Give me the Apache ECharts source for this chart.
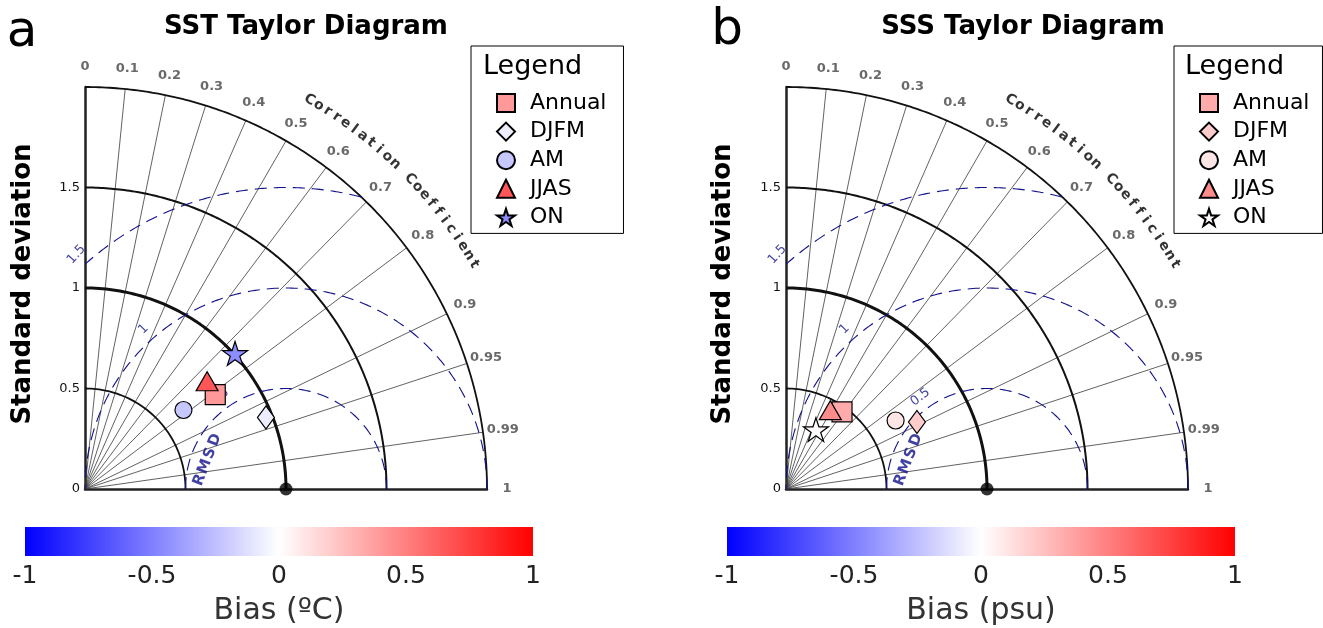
<!DOCTYPE html>
<html><head><meta charset="utf-8">
<script src="https://cdn.jsdelivr.net/npm/echarts@6/dist/echarts.min.js"></script>
<style>html,body{margin:0;padding:0;background:#fff}#c{width:1323px;height:628px}</style>
</head><body><div id="c"></div>
<script>
// ---------------- DATA ----------------
const seasons = ['Annual', 'DJFM', 'AM', 'JJAS', 'ON'];
// SST panel (a)
const sstStd  = [0.80, 0.968, 0.628, 0.81, 1.006];
const sstCorr = [0.81, 0.930, 0.780, 0.75, 0.742];
const sstBias = [0.40, -0.07, -0.22, 0.66, -0.45];
// SSS panel (b)
const sssStd  = [0.474, 0.732, 0.643, 0.45, 0.331];
const sssCorr = [0.588, 0.890, 0.848, 0.49, 0.450];
const sssBias = [0.33, 0.20, 0.10, 0.45, 0.02];
// axes / ticks
const stdTicks = [0, 0.5, 1, 1.5];
const stdArcs = [0.5, 1, 1.5, 2];
const corrLines = [0.1, 0.2, 0.3, 0.4, 0.5, 0.6, 0.7, 0.8, 0.9, 0.95, 0.99];
const corrTicks = [0, 0.1, 0.2, 0.3, 0.4, 0.5, 0.6, 0.7, 0.8, 0.9, 0.95, 0.99, 1];
const rmsdLevels = [0.5, 1, 1.5];
const refStd = 1;
const biasTicks = [-1, -0.5, 0, 0.5, 1];

// ---------------- STYLE / LAYOUT ----------------
const FONT = '"DejaVu Sans", "Liberation Sans", sans-serif';
const STAR = 'path://M0,-100 L22.45,-30.9 L95.1,-30.9 L36.3,11.8 L58.8,80.9 L0,38.2 L-58.8,80.9 L-36.3,11.8 L-95.1,-30.9 L-22.45,-30.9 Z';
const symbols = ['rect', 'diamond', 'circle', 'triangle', STAR];
const symSizes = [20, [17, 23], 17, [22, 19], 25];
const arcWidths = [1.8, 3, 2, 1.8];
const rmsdLabelAngles = [126, 131.7, 131.8];
const rmsdLabelRot = [38, 45, 48];
const NAVY = '#10108a';
const deg = Math.PI / 180;

function bwr(b) {
  b = Math.max(-1, Math.min(1, b));
  let r, g, bl;
  if (b < 0) { const t = -b; r = g = Math.round(255 * (1 - t)); bl = 255; }
  else { const t = b; r = 255; g = bl = Math.round(255 * (1 - t)); }
  return 'rgb(' + r + ',' + g + ',' + bl + ')';
}
function polar(r, c) { return [r * c, r * Math.sqrt(Math.max(0, 1 - c * c))]; }

function panelSeries(gi, key, std, corr, bias) {
  const S = [];
  const base = { xAxisIndex: gi, yAxisIndex: gi, silent: true, animation: false };
  // correlation rays
  corrLines.forEach(c => S.push(Object.assign({}, base, {
    type: 'line', symbol: 'none', clip: false, z: 1,
    lineStyle: { color: '#3a3a3a', width: 0.8 },
    data: [[0, 0], polar(2, c)]
  })));
  // std arcs
  stdArcs.forEach((r, i) => {
    const pts = [];
    for (let a = 0; a <= 90.0001; a += 0.5) pts.push([r * Math.cos(a * deg), r * Math.sin(a * deg)]);
    S.push(Object.assign({}, base, {
      type: 'line', symbol: 'none', clip: false, z: 2,
      lineStyle: { color: '#111', width: arcWidths[i] }, data: pts
    }));
  });
  // RMSD circles
  rmsdLevels.forEach(R => {
    const pts = [];
    for (let a = 0; a <= 180.0001; a += 0.2) {
      const x = refStd + R * Math.cos(a * deg), y = R * Math.sin(a * deg);
      if (x >= -1e-6 && x * x + y * y <= 4.0001) pts.push([x, y]);
    }
    S.push(Object.assign({}, base, {
      type: 'line', symbol: 'none', clip: false, z: 3,
      lineStyle: { color: NAVY, width: 1.1, type: [12, 7] }, data: pts
    }));
  });
  // label helper
  function labels(items, style, z) {
    return Object.assign({}, base, {
      type: 'scatter', clip: false, z: z || 4, symbolSize: 1,
      itemStyle: { color: 'rgba(0,0,0,0)' },
      label: Object.assign({ show: true, position: 'inside', formatter: p => p.name, fontFamily: FONT }, style),
      data: items.map(it => ({ name: it.name, value: [it.x, it.y], label: { rotate: it.rot || 0 } }))
    });
  }
  // correlation tick labels
  S.push(labels(corrTicks.map(c => { const p = polar(2.1, c); return { name: String(c), x: p[0], y: p[1] }; }),
    { fontSize: 13, fontWeight: 'bold', color: '#444' }));
  // "Correlation Coefficient" curved title
  const cc = 'Correlation Coefficient';
  const ccItems = [];
  for (let i = 0; i < cc.length; i++) {
    if (cc[i] === ' ') continue;
    const th = 60 - i * (30 / (cc.length - 1));
    ccItems.push({ name: cc[i], x: 2.235 * Math.cos(th * deg), y: 2.235 * Math.sin(th * deg), rot: th - 90 });
  }
  S.push(labels(ccItems, { fontSize: 14, fontWeight: 'bold', color: '#000' }));
  // RMSD level labels
  S.push(labels(rmsdLevels.map((R, i) => {
    const a = rmsdLabelAngles[i] * deg, rr = R + 0.065;
    return { name: String(R), x: refStd + rr * Math.cos(a), y: rr * Math.sin(a), rot: rmsdLabelRot[i] };
  }), { fontSize: 13, color: NAVY }, 3));
  // "RMSD" word
  const rm = 'RMSD', ang = 69;
  S.push(labels(rm.split('').map((ch, i) => ({
    name: ch, x: 0.609 + (i - 1.5) * 0.071 * Math.cos(ang * deg),
    y: 0.144 + (i - 1.5) * 0.071 * Math.sin(ang * deg), rot: ang
  })), { fontSize: 15, fontWeight: 'bold', color: NAVY }, 3));
  // reference point
  S.push(Object.assign({}, base, {
    type: 'scatter', clip: false, z: 12, symbol: 'circle', symbolSize: 13,
    itemStyle: { color: '#000' }, data: [[refStd, 0]]
  }));
  // model markers
  seasons.forEach((s, i) => S.push(Object.assign({}, base, {
    type: 'scatter', name: key + ':' + s, clip: false, z: 10,
    symbol: symbols[i], symbolSize: symSizes[i], symbolKeepAspect: true,
    itemStyle: { color: bwr(bias[i]), borderColor: '#000', borderWidth: 1.2, opacity: 1 },
    data: [polar(std[i], corr[i])]
  })));
  return S;
}

function colorbarSeries(gi) {
  return {
    type: 'custom', xAxisIndex: gi, yAxisIndex: gi, silent: true, animation: false, clip: false,
    data: [[biasTicks[0], biasTicks[biasTicks.length - 1]]],
    renderItem: (params, api) => {
      const p0 = api.coord([api.value(0), 1]);
      const p1 = api.coord([api.value(1), 0]);
      return {
        type: 'rect',
        shape: { x: p0[0], y: p0[1], width: p1[0] - p0[0], height: p1[1] - p0[1] },
        style: { fill: new echarts.graphic.LinearGradient(0, 0, 1, 0, [
          { offset: 0, color: bwr(-1) }, { offset: 0.5, color: bwr(0) }, { offset: 1, color: bwr(1) }]) }
      };
    }
  };
}

const taylorX = gi => ({
  gridIndex: gi, type: 'value', min: 0, max: 2,
  axisLine: { show: true, onZero: false, lineStyle: { color: '#222', width: 2.5 } },
  axisTick: { show: false }, axisLabel: { show: false }, splitLine: { show: false }
});
const taylorY = gi => ({
  gridIndex: gi, type: 'value', min: 0, max: 2, interval: 0.5,
  axisLine: { show: true, onZero: false, lineStyle: { color: '#222', width: 2.5 } },
  axisTick: { show: false }, splitLine: { show: false },
  axisLabel: { fontSize: 13, color: '#111', margin: 5, fontFamily: FONT,
    formatter: v => stdTicks.indexOf(v) >= 0 ? String(v) : '' }
});
const cbX = (gi, name) => ({
  gridIndex: gi, type: 'value', min: -1, max: 1, interval: 0.5,
  axisLine: { show: false }, axisTick: { show: false }, splitLine: { show: false },
  axisLabel: { fontSize: 25, color: '#222', margin: 8, fontFamily: FONT, showMinLabel: true, showMaxLabel: true,
    formatter: v => biasTicks.indexOf(v) >= 0 ? String(v) : '' },
  name: name, nameLocation: 'middle', nameGap: 40,
  nameTextStyle: { fontSize: 30, color: '#333', fontFamily: FONT }
});
const cbY = gi => ({ gridIndex: gi, type: 'value', min: 0, max: 1, show: false });

const legend = (key, left, padRight) => ({
  left: left, top: 46, orient: 'vertical', selectedMode: false,
  padding: [46, padRight, 5, 25], itemWidth: 18, itemHeight: 18, itemGap: 6.6,
  borderColor: '#000', borderWidth: 1, backgroundColor: '#fff', borderRadius: 0,
  data: seasons.map(s => key + ':' + s), formatter: n => n.slice(2),
  textStyle: { fontSize: 22, color: '#000', fontFamily: FONT, padding: [0, 0, 0, 10] }
});

const txt = (x, y, text, font, extra) => Object.assign({
  type: 'text', x: x, y: y, z: 100, silent: true,
  style: { text: text, font: font, fill: '#000', textAlign: 'center', textVerticalAlign: 'middle', align: 'center', verticalAlign: 'middle' }
}, extra || {});

const option = {
  animation: false,
  backgroundColor: '#fff',
  textStyle: { fontFamily: FONT },
  grid: [
    { left: 85, top: 87, width: 402, height: 402, outerBoundsMode: 'none' },
    { left: 786, top: 87, width: 402, height: 402, outerBoundsMode: 'none' },
    { left: 25, top: 527, width: 508, height: 29, outerBoundsMode: 'none' },
    { left: 727, top: 527, width: 508, height: 29, outerBoundsMode: 'none' }
  ],
  xAxis: [taylorX(0), taylorX(1), cbX(2, 'Bias (ºC)'), cbX(3, 'Bias (psu)')],
  yAxis: [taylorY(0), taylorY(1), cbY(2), cbY(3)],
  legend: [legend('a', 471, 17), legend('b', 1174, 13)],
  graphic: [
    txt(306, 27, 'SST Taylor Diagram', 'bold 26px ' + FONT),
    txt(1023, 27, 'SSS Taylor Diagram', 'bold 26px ' + FONT),
    txt(22, 33, 'a', '50px ' + FONT),
    txt(727, 31, 'b', '50px ' + FONT),
    txt(23, 284, 'Standard deviation', 'bold 26px ' + FONT, { rotation: Math.PI / 2 }),
    txt(723, 284, 'Standard deviation', 'bold 26px ' + FONT, { rotation: Math.PI / 2 }),
    { type: 'text', x: 483, y: 67, z: 100, silent: true,
      style: { text: 'Legend', font: '27px ' + FONT, fill: '#000', textAlign: 'left', textVerticalAlign: 'middle', align: 'left', verticalAlign: 'middle' } },
    { type: 'text', x: 1185, y: 67, z: 100, silent: true,
      style: { text: 'Legend', font: '27px ' + FONT, fill: '#000', textAlign: 'left', textVerticalAlign: 'middle', align: 'left', verticalAlign: 'middle' } }
  ],
  series: [].concat(
    panelSeries(0, 'a', sstStd, sstCorr, sstBias),
    panelSeries(1, 'b', sssStd, sssCorr, sssBias),
    [colorbarSeries(2), colorbarSeries(3)]
  )
};

const chart = echarts.init(document.getElementById('c'), null, { renderer: 'canvas' });
chart.setOption(option);
</script>
</body></html>
